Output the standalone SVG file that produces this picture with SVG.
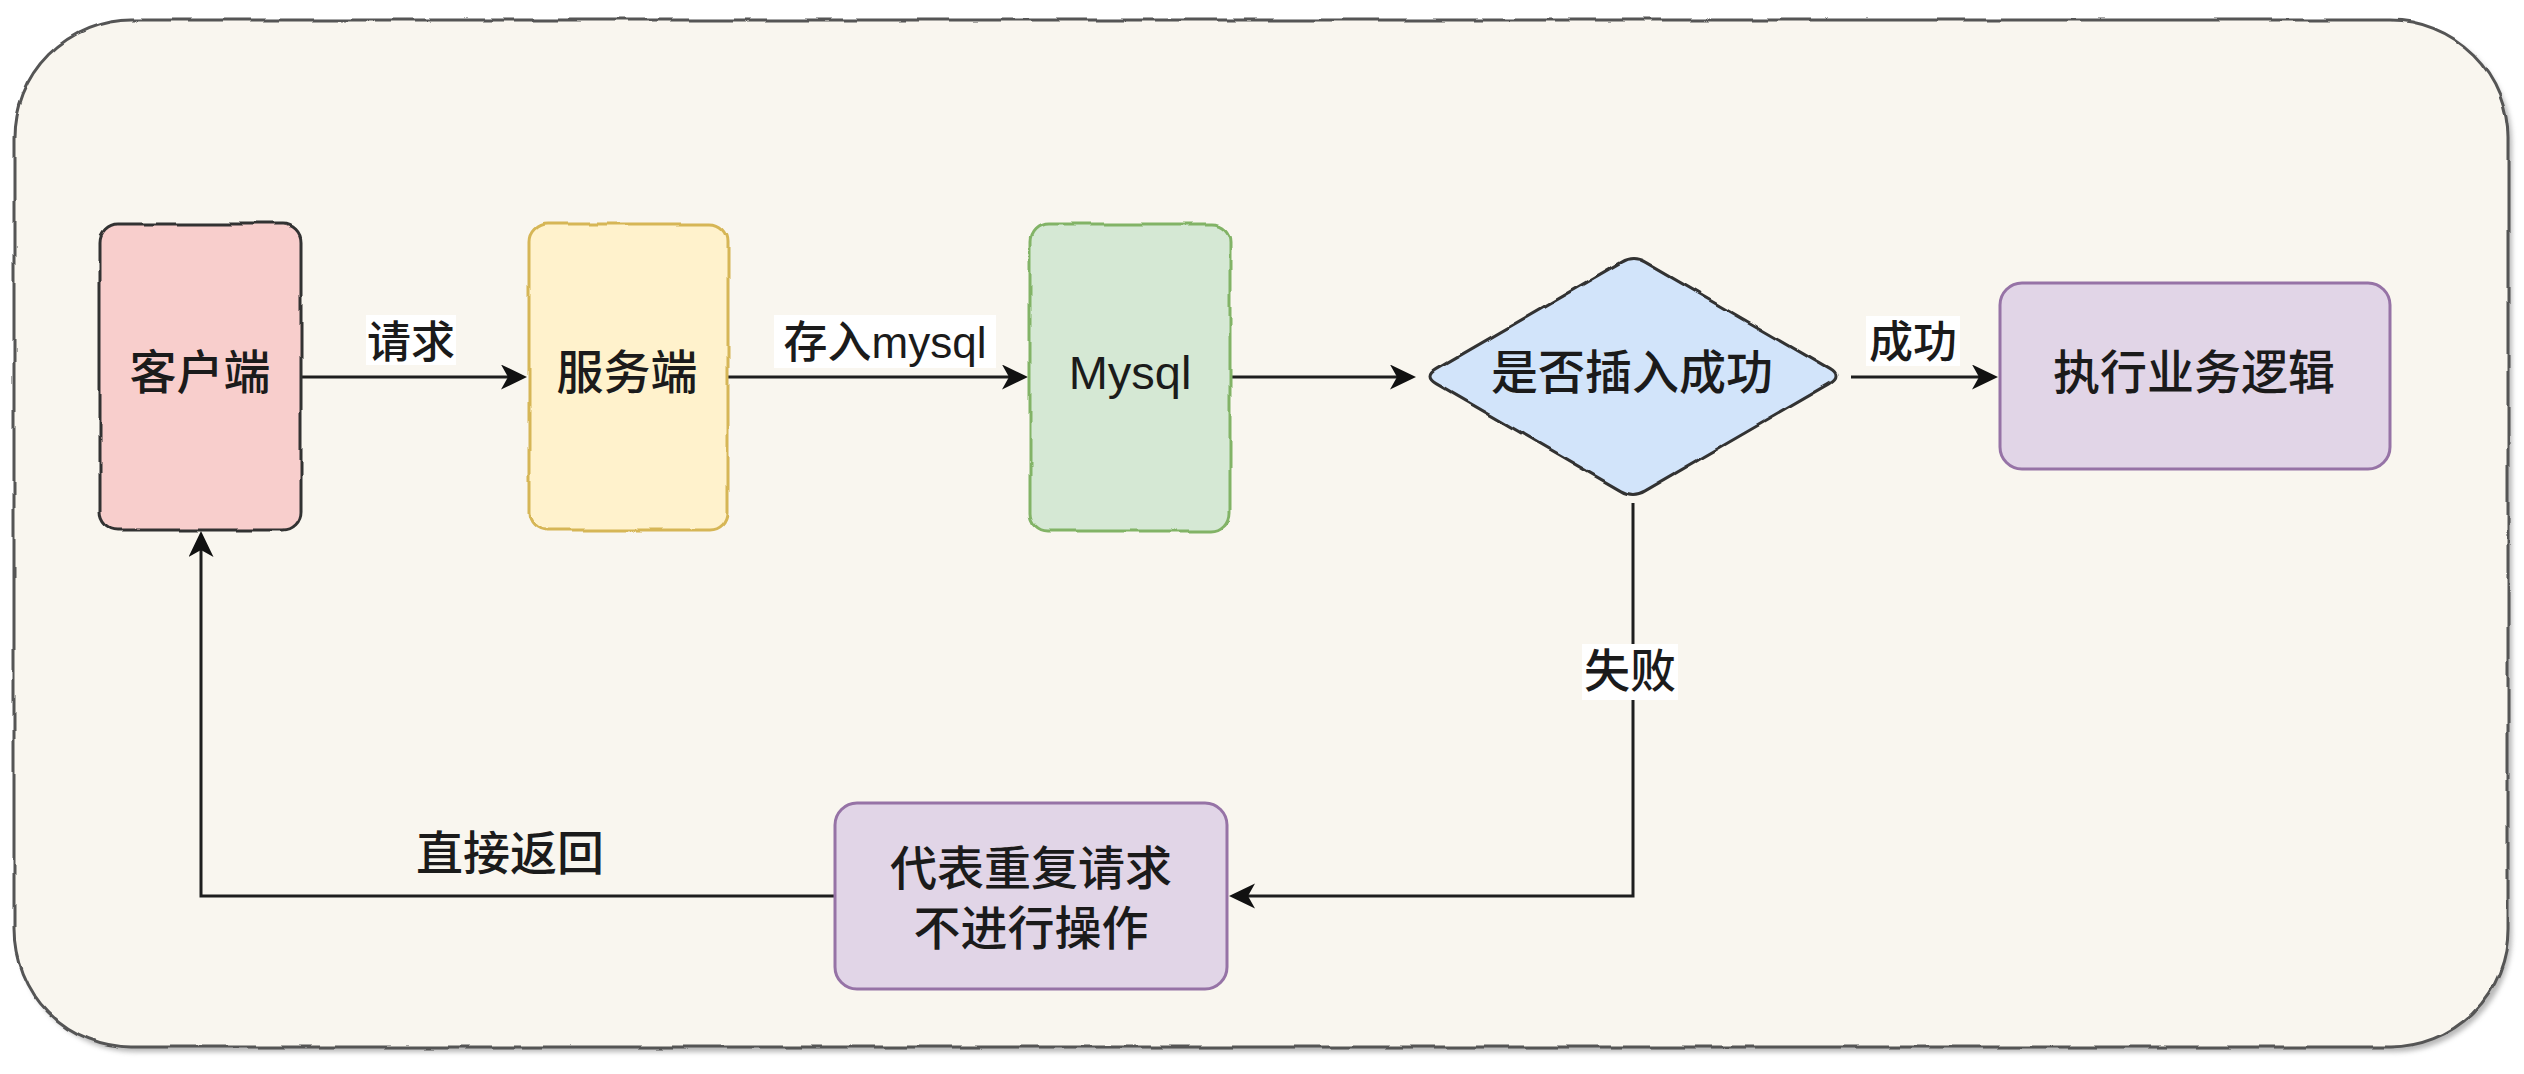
<svg xmlns="http://www.w3.org/2000/svg" width="2524" height="1074" viewBox="0 0 2524 1074">
<style>
.t{font-family:"Liberation Sans","Noto Sans CJK SC",sans-serif;fill:#1b1b1b;text-anchor:middle;font-weight:500}
.n{font-size:47px}
.l{font-size:44px}
.e{fill:none;stroke:#1e1e1e;stroke-width:3}
.bg{fill:#ffffff}
</style>
<defs>
<filter id="rough" x="-5%" y="-5%" width="110%" height="110%">
<feTurbulence type="fractalNoise" baseFrequency="0.025" numOctaves="2" seed="4" result="n"/>
<feDisplacementMap in="SourceGraphic" in2="n" scale="5" xChannelSelector="R" yChannelSelector="G"/>
</filter>
<filter id="shadow" x="-2%" y="-2%" width="104%" height="106%">
<feGaussianBlur stdDeviation="2.5"/>
</filter>
<marker id="arr" markerUnits="userSpaceOnUse" markerWidth="28" markerHeight="26" refX="7" refY="12.5" orient="auto">
<path d="M0,0 L26,12.5 L0,25 L7,12.5 Z" fill="#111"/>
</marker>
</defs>
<rect width="2524" height="1074" fill="#ffffff"/>
<g id="container">
<rect x="18" y="25" width="2494" height="1027" rx="118" fill="#9a9a9a" opacity="0.7" filter="url(#shadow)"/>
<rect x="14" y="20" width="2494" height="1027" rx="118" fill="#F9F6EF" stroke="#555" stroke-width="3" filter="url(#rough)"/>
</g>
<g id="connectors">
<line class="e" x1="301" y1="377" x2="508" y2="377" marker-end="url(#arr)"/>
<line class="e" x1="728" y1="377" x2="1009" y2="377" marker-end="url(#arr)"/>
<line class="e" x1="1230" y1="377" x2="1397" y2="377" marker-end="url(#arr)"/>
<line class="e" x1="1851" y1="377" x2="1979" y2="377" marker-end="url(#arr)"/>
<polyline class="e" points="1633,503 1633,896 1248,896" marker-end="url(#arr)"/>
<polyline class="e" points="835,896 201,896 201,550" marker-end="url(#arr)"/>
<rect class="bg" x="366" y="315" width="90" height="50"/>
<text class="t l" x="411" y="358">请求</text>
<rect class="bg" x="774" y="315" width="222" height="53"/>
<text class="t l" x="885" y="358">存入mysql</text>
<rect class="bg" x="1866" y="316" width="94" height="50"/>
<text class="t l" x="1913" y="358">成功</text>
<rect class="bg" x="1582" y="644" width="96" height="56"/>
<text class="t" style="font-size:46px" x="1630" y="687">失败</text>
<text class="t n" x="510" y="870">直接返回</text>
</g>
<g id="client">
<rect x="100" y="224" width="201" height="306" rx="18" fill="#F8CECC" stroke="#333" stroke-width="3" filter="url(#rough)"/>
<text class="t n" x="200" y="389">客户端</text>
</g>
<g id="server">
<rect x="529" y="224" width="199" height="306" rx="18" fill="#FFF2CC" stroke="#D6B656" stroke-width="3" filter="url(#rough)"/>
<text class="t n" x="627" y="389">服务端</text>
</g>
<g id="mysql">
<rect x="1030" y="224" width="200" height="307" rx="18" fill="#D5E8D4" stroke="#82B366" stroke-width="3" filter="url(#rough)"/>
<text class="t n" x="1130" y="389">Mysql</text>
</g>
<g id="decision">
<path d="M1436,369.4 L1620.9,262.1 Q1633,255 1645.1,262.1 L1830,369.4 Q1842,376.5 1830,383.6 L1645.1,490.9 Q1633,498 1620.9,490.9 L1436,383.6 Q1424,376.5 1436,369.4 Z" fill="#D2E4FA" stroke="#333" stroke-width="3" filter="url(#rough)"/>
<text class="t n" x="1632" y="389">是否插入成功</text>
</g>
<g id="business">
<rect x="2000" y="283" width="390" height="186" rx="22" fill="#E1D5E7" stroke="#9673A6" stroke-width="3"/>
<text class="t n" x="2194" y="389">执行业务逻辑</text>
</g>
<g id="duplicate">
<rect x="835" y="803" width="392" height="186" rx="22" fill="#E1D5E7" stroke="#9673A6" stroke-width="3"/>
<text class="t n" x="1031" y="885">代表重复请求</text>
<text class="t n" x="1031" y="945">不进行操作</text>
</g>
</svg>
